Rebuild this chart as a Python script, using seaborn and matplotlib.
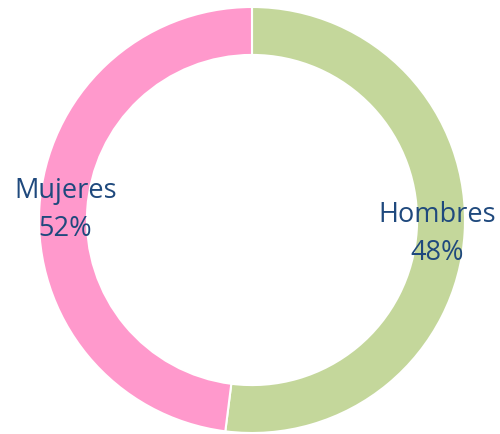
import matplotlib
matplotlib.use("Agg")
import matplotlib.pyplot as plt
import seaborn as sns

# Data
labels = ["Hombres", "Mujeres"]
label_pct = [48, 52]          # percentages printed on the chart
arc_share = [52, 48]          # arc lengths as drawn in the picture
colors = ["#C4D79B", "#FF99CC"]

sns.set_theme(style="white")
plt.rcParams["font.family"] = ["Open Sans", "DejaVu Sans"]

fig = plt.figure(figsize=(5.0, 4.34), dpi=100)
ax = fig.add_axes([0, 0, 1, 1])

ax.pie(arc_share, colors=colors, startangle=90, counterclock=False, radius=1,
       wedgeprops=dict(width=0.225, edgecolor="white", linewidth=1.5))

ax.set_aspect("auto")
ax.set_xlim(-252 / 213, 248 / 213)
ax.set_ylim(-214 / 213, 220 / 213)
ax.axis("off")

txt_color = "#1F497D"
ax.text(0.87, -0.066, f"{labels[0]}\n{label_pct[0]}%", ha="center", va="center",
        color=txt_color, fontsize=19.5, linespacing=1.45)
ax.text(-0.877, 0.047, f"{labels[1]}\n{label_pct[1]}%", ha="center", va="center",
        color=txt_color, fontsize=19.5, linespacing=1.45)

plt.savefig("out.png", dpi=100)
plt.close()
